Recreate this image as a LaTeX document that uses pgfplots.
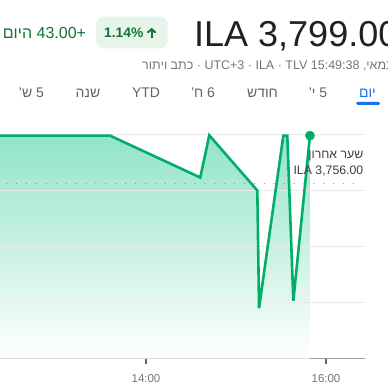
\documentclass[border=0pt]{standalone}
\usepackage{fontspec}
\setmainfont{Liberation Sans}
\usepackage{pgfplots}
\pgfplotsset{compat=1.18}
\usetikzlibrary{arrows.meta}
\TeXXeTstate=1
\definecolor{lineGreen}{RGB}{0,174,104}
\definecolor{fillTop}{RGB}{146,228,200}
\definecolor{fillMid}{RGB}{212,245,233}
\definecolor{txtGreen}{RGB}{19,115,51}
\definecolor{boxGreen}{RGB}{230,244,234}
\definecolor{darkTxt}{RGB}{32,33,36}
\definecolor{midTxt}{RGB}{60,64,67}
\definecolor{grayTxt}{RGB}{95,99,104}
\definecolor{lightTxt}{RGB}{112,117,122}
\definecolor{gBlue}{RGB}{26,115,232}
\definecolor{gridGray}{RGB}{232,234,237}
\definecolor{axisGray}{RGB}{154,160,166}
\definecolor{dotGray}{RGB}{140,146,151}
\newcommand{\fs}[1]{\fontsize{#1bp}{#1bp}\selectfont}
\begin{document}
\begin{tikzpicture}[x=1bp,y=1bp]
\useasboundingbox (0,0) rectangle (388,391);
% header
\node[anchor=base west, inner sep=0, text=darkTxt] at (194,344.3) {\fs{36}ILA 3,799.00};
\fill[boxGreen, rounded corners=8bp] (96,342.7) rectangle (167.7,374.3);
\node[anchor=west, inner sep=0, text=txtGreen] at (104,358.3) {\fs{13.8}\bfseries 1.14\%};
\draw[txtGreen, line width=1.9bp, -{Straight Barb[length=3.6bp, width=8bp, line width=1.9bp]}] (151.6,352.5) -- (151.6,363.2);
\node[anchor=west, inner sep=0, text=txtGreen] at (2.7,358.3) {\fs{16}{\beginR היום\endR} 43.00+};
\node[anchor=base west, inner sep=0, text=lightTxt] at (142,321.5) {\fs{12.5}{\beginR כתב ויתור\endR} · UTC+3 · ILA · TLV 15:49:38 ,{\beginR במאי\endR} 7};
% tabs
\begin{scope}[every node/.style={inner sep=0, text=grayTxt, font=\fs{14}}]
\node at (31.5,298) {\beginR 5 ש'\endR};
\node at (88,298) {\beginR שנה\endR};
\node at (146,298) {YTD};
\node at (203,298) {\beginR 6 ח'\endR};
\node at (262.5,298) {\beginR חודש\endR};
\node at (318,298) {\beginR 5 י'\endR};
\node[text=gBlue] at (367.5,298) {\beginR יום\endR};
\end{scope}
\fill[gBlue, rounded corners=1.5bp] (356,286) rectangle (380,289.2);
% chart
\begin{axis}[
  at={(0,29)}, anchor=south west, scale only axis,
  width=365bp, height=237bp,
  xmin=12.3778, xmax=16.4333,
  ymin=3600, ymax=3811.6,
  axis x line*=bottom, axis y line*=left,
  x axis line style={draw=axisGray, line width=1.2bp},
  y axis line style={draw=none},
  xtick={14,16}, xticklabels={{14:00},{16:00}},
  xtick align=outside, major tick length=5bp,
  xtick style={draw=grayTxt, line width=1.4bp},
  xticklabel style={font=\fs{11.5}, text=lightTxt, yshift=-7bp},
  ytick=\empty,
]
\addplot[draw=none, top color=fillTop, middle color=fillMid, bottom color=white] coordinates {
(12.30,3799) (13.6,3799) (14.603,3761.6) (14.703,3799.3) (15.237,3750) (15.256,3645)
(15.526,3799) (15.57,3799) (15.637,3651.5) (15.822,3799)} \closedcycle;
\addplot[gridGray, line width=0.9bp, forget plot] coordinates {(12.3778,3800) (16.4333,3800)};
\addplot[gridGray, line width=0.9bp, forget plot] coordinates {(12.3778,3750) (16.4333,3750)};
\addplot[gridGray, line width=0.9bp, forget plot] coordinates {(12.3778,3700) (16.4333,3700)};
\addplot[gridGray, line width=0.9bp, forget plot] coordinates {(12.3778,3650) (16.4333,3650)};
\addplot[dotGray, line width=1.4bp, line cap=round, dash pattern=on 0.01bp off 9.9bp] coordinates {(12.452,3756) (16.40,3756)};
\addplot[lineGreen, line width=2.6bp, line join=miter] coordinates {
(12.30,3799) (13.6,3799) (14.603,3761.6) (14.703,3799.3) (15.237,3750) (15.256,3645)
(15.526,3799) (15.57,3799) (15.637,3651.5) (15.822,3799)};
\addplot[only marks, mark=*, mark size=4.6bp, color=lineGreen] coordinates {(15.822,3799)};
\end{axis}
\node[anchor=east, inner sep=0, text=midTxt] at (363.5,235.3) {\fs{12.3}\beginR שער אחרון\endR};
\node[anchor=east, inner sep=0, text=midTxt] at (363.5,220.3) {\fs{12.3}ILA 3,756.00};
\end{tikzpicture}
\end{document}
